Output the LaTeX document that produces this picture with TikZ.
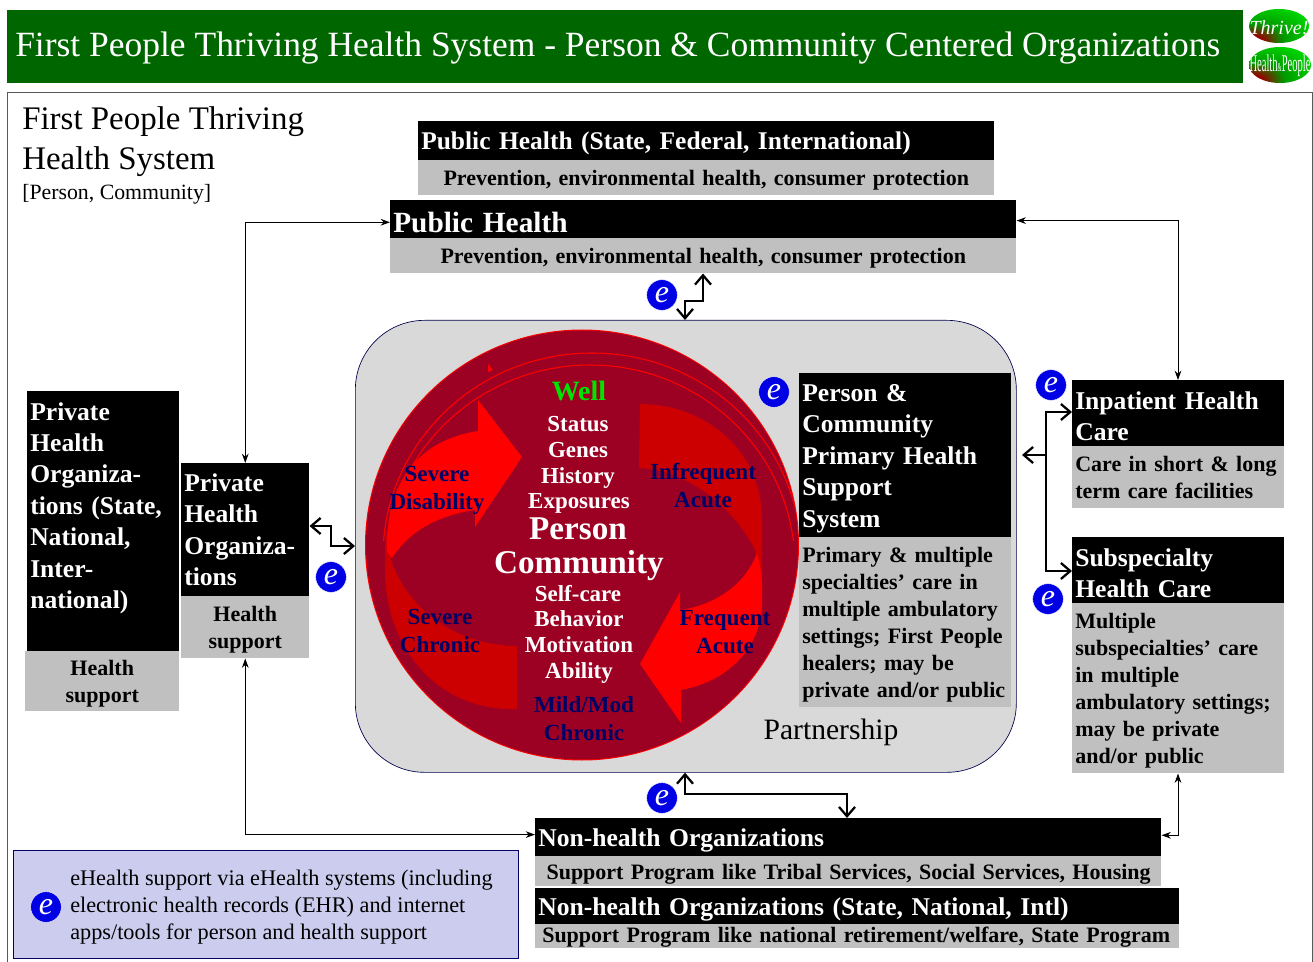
\documentclass[tikz,border=0pt]{standalone}
\usepackage{fontspec}
\usepackage{graphicx}
\setmainfont{Liberation Serif}
\usetikzlibrary{arrows.meta,calc}
\definecolor{hdrgreen}{HTML}{006600}
\definecolor{boxgray}{HTML}{C0C0C0}
\definecolor{panelgray}{HTML}{D9D9D9}
\definecolor{circdark}{HTML}{9C0022}
\definecolor{arrowdark}{HTML}{CC0000}
\definecolor{legendfill}{HTML}{CCCCEE}
\definecolor{labnavy}{HTML}{000066}
\pgfdeclareradialshading{logoshade}{\pgfpoint{-24bp}{-24bp}}{color(0bp)=(red!65!black);color(8bp)=(red!60!black);color(22bp)=(green!60!black);color(45bp)=(green!85!black);color(70bp)=(green);color(100bp)=(green)}
\tikzset{
  px/.style={x=0.75pt,y=-0.75pt},
  blackbox/.style={fill=black,text=white,font=\bfseries\fontsize{19.2}{23.6}\selectfont,align=left,inner xsep=2.25pt,inner ysep=0pt,anchor=north west},
  graybox/.style={fill=boxgray,text=black,font=\bfseries\fontsize{16.5}{20.25}\selectfont,inner xsep=2.25pt,inner ysep=0pt,anchor=north west},
  thinarrow/.style={draw=black,line width=0.7pt,{Stealth[length=7pt,width=5pt]}-{Stealth[length=7pt,width=5pt]}},
  thickarrow/.style={draw=black,line width=1.7pt,{Straight Barb[length=7pt,width=12pt,line width=1.7pt]}-{Straight Barb[length=7pt,width=12pt,line width=1.7pt]}},
  eicon/.style={circle,fill=blue!90!black,draw=white,line width=0.3pt,text=white,minimum size=23pt,inner sep=0pt,font=\itshape\fontsize{24}{24}\selectfont},
  centertxt/.style={text=white,font=\bfseries\fontsize{17.2}{19.1}\selectfont,align=center,inner sep=0pt},
  navytxt/.style={text=labnavy,font=\bfseries\fontsize{17.3}{21}\selectfont,align=center,inner sep=0pt},
}
\newcommand{\bxs}[8]{\node[#6,minimum width={(#4-#2)*0.75pt},minimum height={(#5-#3)*0.75pt},text width={(#4-#2)*0.75pt-4.5pt}] (#1) at (#2,#3) {\rule{0pt}{\dimexpr 0.68em+#8\relax}#7};}
\newcommand{\bx}[7]{\bxs{#1}{#2}{#3}{#4}{#5}{#6}{#7}{4.5pt}}
\begin{document}
\begin{tikzpicture}[px]
\useasboundingbox (0,0) rectangle (1313,962);
\fill[white] (0,0) rectangle (1313,962);
% header
\node[fill=hdrgreen,anchor=north west,minimum width=927pt,minimum height=54.75pt,inner sep=0pt] (hdr) at (7,10) {};
\node[anchor=west,text=white,inner sep=0pt,font=\fontsize{26.6}{30}\selectfont] (hdrtxt) at (15,48) {First People Thriving Health System - Person \& Community Centered Organizations};
% logos
\shade[shading=logoshade] (1279,26) ellipse [x radius=30,y radius=17];
\shade[shading=logoshade] (1280,65) ellipse [x radius=31,y radius=18];
\node[text=white,inner sep=0pt,font=\itshape\fontsize{15}{15}\selectfont] (thrive) at (1279,28) {Thrive!};
\node[text=white,inner sep=0pt,font=\fontsize{18}{18}\selectfont] (hp) at (1280,66) {\scalebox{.44}[1]{Health{\fontsize{9}{9}\selectfont\&}People}};
% frame
\node[draw=black!65,line width=0.7pt,anchor=north west,minimum width=978.5pt,minimum height=660pt,inner sep=0pt] (frame) at (7,92) {};
\node[anchor=north west,inner sep=0pt,align=left,font=\fontsize{24.7}{30}\selectfont] (ftitle) at (22,106) {First People Thriving\\Health System};
\node[anchor=north west,inner sep=0pt,font=\fontsize{16.35}{18}\selectfont] (fsub) at (22,184) {[Person, Community]};
% panel
\node[draw=blue!30!black,line width=0.5pt,fill=panelgray,rounded corners=52pt,anchor=north west,minimum width=495.75pt,minimum height=339pt,inner sep=0pt] (panel) at (355,320) {};
% circle
\begin{scope}
\fill[red] (582,545) ellipse [x radius=217,y radius=215.5];
\clip (582,545) ellipse [x radius=216,y radius=214.5];
\fill[circdark] (582,545) ellipse [x radius=217,y radius=216];
\begin{scope}
\clip (360,330) rectangle (820,540);
\draw[red,line width=0.8pt] (592,556) ellipse [x radius=209,y radius=203];
\draw[red,line width=0.8pt] (590,566) ellipse [x radius=205,y radius=201];
\end{scope}
\fill[red] (488,364) -- (493,370) -- (488,372) -- cycle;
% dark arrow upper right
\fill[arrowdark] (640,404) .. controls (705,404) and (762,450) .. (762,520) -- (762,595) .. controls (762,585) and (760,565) .. (755,550) .. controls (735,510) and (690,470) .. (639,468) -- cycle;
% dark arrow lower left
\fill[arrowdark] (517,709) .. controls (440,712) and (385,650) .. (385,570) -- (385,530) -- (392,563) .. controls (410,610) and (455,645) .. (517,646) -- cycle;
% bright arrow upper left
\fill[red] (522,457) -- (478,400) -- (478,431) .. controls (420,440) and (385,480) .. (387,552) -- (392,558) .. controls (410,530) and (440,515) .. (475,510) -- (475,527) -- cycle;
% bright arrow lower right
\fill[red] (640,664) -- (681,723) -- (681,690) .. controls (735,680) and (765,640) .. (762,595) .. controls (763,580) and (760,565) .. (757,553) .. controls (745,585) and (715,605) .. (680,610) -- (680,592) -- cycle;
\end{scope}
% circle texts
\node[text=green!90!black,inner sep=0pt,font=\bfseries\fontsize{21}{24}\selectfont] (well) at (579,391) {Well};
\node[centertxt] (status) at (578,424) {Status};
\node[centertxt] (genes) at (578,450) {Genes};
\node[centertxt] (history) at (578,478) {History};
\node[centertxt] (expo) at (579,503) {Exposures};
\node[text=white,inner sep=0pt,font=\bfseries\fontsize{24.9}{28}\selectfont] (person) at (578,529) {Person};
\node[text=white,inner sep=0pt,font=\bfseries\fontsize{24.9}{28}\selectfont] (comm) at (579,566) {Community};
\node[centertxt] (self) at (578,594) {Self-care};
\node[centertxt] (behav) at (579,619) {Behavior};
\node[centertxt] (motiv) at (579,645) {Motivation};
\node[centertxt] (abil) at (579,673) {Ability};
\node[navytxt] (sd) at (437,490) {Severe\\Disability};
\node[navytxt] (ia) at (703,486) {Infrequent\\Acute};
\node[navytxt] (sc) at (440,631) {Severe\\Chronic};
\node[navytxt] (fa) at (725,632) {Frequent\\Acute};
\node[navytxt] (mm) at (584,719) {Mild/Mod\\Chronic};
\node[inner sep=0pt,font=\fontsize{22.2}{26}\selectfont] (partner) at (831,732) {Partnership};
% boxes
\bx{pha}{418}{121}{994}{160}{blackbox,font=\bfseries\fontsize{19.1}{22}\selectfont}{Public Health (State, Federal, International)}
\bx{phb}{418}{160}{994}{195}{graybox,align=center}{Prevention, environmental health, consumer protection}
\bx{pca}{390}{200}{1016}{238}{blackbox,font=\bfseries\fontsize{22}{26}\selectfont}{Public Health}
\bx{pcb}{390}{238}{1016}{273}{graybox,align=center}{Prevention, environmental health, consumer protection}
\bx{cpa}{799}{373}{1011}{537}{blackbox}{Person \&\\Community\\Primary Health\\Support\\System}
\bx{cpb}{799}{537}{1011}{707}{graybox,align=left}{Primary \& multiple\\specialties’ care in\\multiple ambulatory\\settings; First People\\healers; may be\\private and/or public}
\bx{ipa}{1072}{380}{1284}{446}{blackbox}{Inpatient Health\\Care}
\bxs{ipb}{1072}{446}{1284}{508}{graybox,align=left}{Care in short \& long\\term care facilities}{1pt}
\bx{ssa}{1072}{537}{1284}{603}{blackbox}{Subspecialty\\Health Care}
\bx{ssb}{1072}{603}{1284}{773}{graybox,align=left}{Multiple\\subspecialties’ care\\in multiple\\ambulatory settings;\\may be private\\and/or public}
\bxs{pla}{27}{391}{179}{651}{blackbox}{Private\\Health\\Organiza-\\tions (State,\\National,\\Inter-\\national)\\\mbox{}}{0pt}
\bx{plb}{25}{651}{179}{711}{graybox,align=center}{Health\\support}
\bxs{ppa}{181}{463}{309}{596}{blackbox}{Private\\Health\\Organiza-\\tions}{0pt}
\bx{ppb}{181}{596}{309}{658}{graybox,align=center}{Health\\support}
\bx{nha}{535}{818}{1161}{856}{blackbox}{Non-health Organizations}
\bx{nhb}{535}{856}{1161}{886}{graybox,align=left}{\hspace*{6.2pt}Support Program like Tribal Services, Social Services, Housing}
\bx{nsa}{535}{888}{1179}{924}{blackbox}{Non-health Organizations (State, National, Intl)}
\bxs{nsb}{535}{924}{1179}{948}{graybox,align=left}{\hspace*{3pt}Support Program like national retirement/welfare, State Program}{1.5pt}
% legend
\node[draw=blue!40!black,line width=0.5pt,fill=legendfill,anchor=north west,minimum width=378.75pt,minimum height=81pt,inner sep=0pt] (legend) at (13,850) {};
\node[anchor=north west,inner sep=0pt,align=left,font=\fontsize{16.7}{20.25}\selectfont] (legtxt) at (70,870) {eHealth support via eHealth systems (including\\electronic health records (EHR) and internet\\apps/tools for person and health support};
% e icons
\node[eicon] (e1) at (662,295) {e};
\node[eicon] (e2) at (774,392) {e};
\node[eicon] (e3) at (1051,385) {e};
\node[eicon] (e4) at (1048,599) {e};
\node[eicon] (e5) at (331,577) {e};
\node[eicon] (e6) at (662,798) {e};
\node[eicon] (e7) at (46,907) {e};
% thin connectors
\draw[thinarrow] (ppa.north) |- ([yshift=-2.25pt]pca.west);
\draw[thinarrow] ([yshift=-1pt]pca.east) -| (ipa.north-|1178,0);
\draw[thinarrow] (ppb.south) |- ([yshift=2pt]nha.west);
\draw[thinarrow] ([yshift=1.5pt]nha.east) -| (ssb.south-|1178,0);
% thick connectors
\coordinate (c1) at (685,301); \coordinate (c2) at (703,301);
\draw[thickarrow] (panel.north-|c1) -- (c1) -- (c2) -- (pcb.south-|c2);
\coordinate (c3) at (685,794); \coordinate (c4) at (847,794);
\draw[thickarrow] (panel.south-|c3) -- (c3) -- (c4) -- (nha.north-|c4);
\coordinate (c5) at (331,526); \coordinate (c6) at (331,546);
\draw[thickarrow] (ppa.east|-c5) -- (c5) -- (c6) -- (panel.west|-c6);
\coordinate (c7) at (1046,412); \coordinate (c8) at (1046,571); \coordinate (c9) at (1046,455);
\draw[thickarrow] (ipa.west|-c7) -- (c7) -- (c8) -- (ssa.west|-c8);
\draw[line width=1.7pt,-{Straight Barb[length=7pt,width=12pt,line width=1.7pt]}] (c9) -- (1022,455);
\end{tikzpicture}
\end{document}
